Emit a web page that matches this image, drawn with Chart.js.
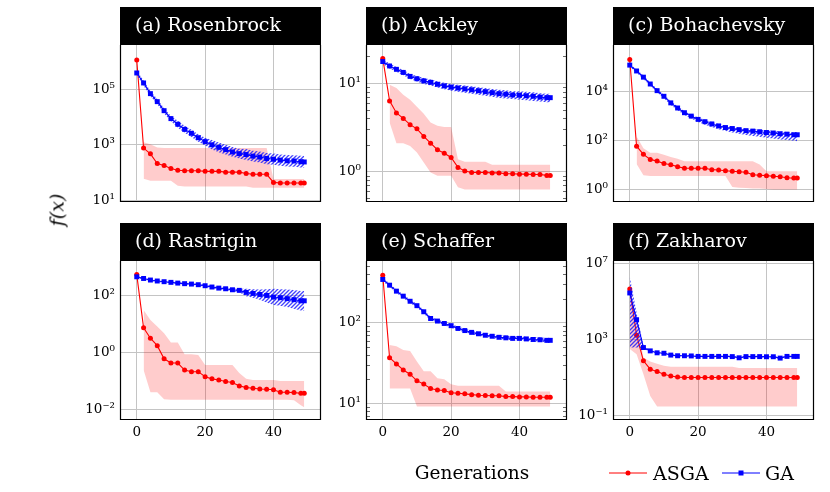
<!DOCTYPE html>
<html>
<head>
<meta charset="utf-8">
<script src="https://cdn.jsdelivr.net/npm/chart.js@4.4.0/dist/chart.umd.min.js"></script>
<style>
  body { margin: 0; width: 830px; height: 492px; background: #fff; position: relative; overflow: hidden; font-family: "DejaVu Serif", serif; }
  canvas.panel { position: absolute; }
  .lbl { position: absolute; color: #000; white-space: nowrap; line-height: 1; }
  #xlab { left: 472px; top: 473px; font-size: 18.5px; transform: translate(-50%, -50%); }
  #ylab { left: 57px; top: 210px; font-size: 19px; font-style: italic; transform: translate(-50%, -50%) rotate(-90deg); }
  .key { position: absolute; top: 468px; }
  .ltxt { top: 473px; font-size: 19px; transform: translateY(-50%); }
</style>
</head>
<body>
<canvas id="p0" class="panel"></canvas>
<canvas id="p1" class="panel"></canvas>
<canvas id="p2" class="panel"></canvas>
<canvas id="p3" class="panel"></canvas>
<canvas id="p4" class="panel"></canvas>
<canvas id="p5" class="panel"></canvas>

<div id="ylab" class="lbl">f(x)</div>
<div id="xlab" class="lbl">Generations</div>
<svg class="key" style="left:609px" width="38" height="10"><line x1="0" y1="5" x2="38" y2="5" stroke="#ff0000" stroke-width="1"/><circle cx="19" cy="5" r="2.5" fill="#ff0000"/></svg>
<div class="lbl ltxt" style="left:653px">ASGA</div>
<svg class="key" style="left:722px" width="38" height="10"><line x1="0" y1="5" x2="38" y2="5" stroke="#0000ff" stroke-width="1"/><rect x="16.5" y="2.5" width="5" height="5" fill="#0000ff"/></svg>
<div class="lbl ltxt" style="left:765px">GA</div>

<script>
const generations = [0, 2, 4, 6, 8, 10, 12, 14, 16, 18, 20, 22, 24, 26, 28, 30, 32, 34, 36, 38, 40, 42, 44, 46, 48, 49];
const xTicks = [0, 20, 40];
const panelTitles = ['(a) Rosenbrock', '(b) Ackley', '(c) Bohachevsky', '(d) Rastrigin', '(e) Schaffer', '(f) Zakharov'];

// y limits and labelled decades, one entry per panel
const yMin = [8.7, 0.457, 0.31, 0.0043, 6.2, 0.055];
const yMax = [3.98e6, 26.9, 7.8e5, 1550, 585, 1.3e7];
const yTicks = [[1e1, 1e3, 1e5], [1e0, 1e1], [1e0, 1e2, 1e4], [1e-2, 1e0, 1e2], [1e1, 1e2], [1e-1, 1e3, 1e7]];
const minorTicksOn = [false, true, false, false, true, false];

// (a) Rosenbrock
const asgaRosen   = [1.15e6, 760, 470, 210, 180, 140, 120, 115, 115, 115, 110, 110, 110, 103, 103, 103, 92, 87, 87, 86, 44, 42, 42, 42, 42, 42];
const asgaRosenHi = [null, 1230, 1050, 800, 760, 760, 760, 760, 760, 760, 760, 760, 760, 760, 760, 760, 760, 760, 760, 760, 58, 58, 58, 58, 58, 58];
const asgaRosenLo = [null, 60, 50, 50, 50, 50, 33, 31, 31, 31, 31, 31, 31, 31, 31, 31, 31, 28, 28, 28, 28, 28, 28, 28, 28, 28];
const gaRosen     = [3.9e5, 1.7e5, 7e4, 3.6e4, 1.7e4, 8.8e3, 5.5e3, 3.6e3, 2.6e3, 1.8e3, 1.3e3, 1000, 810, 670, 550, 480, 445, 390, 360, 320, 300, 280, 265, 260, 245, 240];
const gaRosenHi   = [4.7e5, 2.1e5, 8.8e4, 4.5e4, 2.1e4, 1.1e4, 7.4e3, 4.9e3, 3.5e3, 2.4e3, 1.8e3, 1.5e3, 1.2e3, 1.0e3, 830, 720, 700, 610, 570, 510, 480, 450, 430, 420, 400, 390];
const gaRosenLo   = [3.2e5, 1.35e5, 5.6e4, 2.9e4, 1.35e4, 7e3, 4.1e3, 2.7e3, 1.9e3, 1.3e3, 950, 680, 540, 450, 370, 320, 280, 250, 230, 200, 190, 175, 165, 160, 150, 145];

// (b) Ackley
const asgaAckley   = [19, 6.3, 4.6, 4.0, 3.4, 3.05, 2.5, 2.1, 1.77, 1.62, 1.45, 1.12, 1.02, 0.98, 0.98, 0.98, 0.97, 0.97, 0.95, 0.95, 0.94, 0.94, 0.93, 0.93, 0.91, 0.91];
const asgaAckleyHi = [null, 9.6, 8.8, 7.4, 6.5, 5.4, 4.5, 3.6, 3.3, 3.2, 3.2, 1.38, 1.3, 1.3, 1.3, 1.3, 1.2, 1.2, 1.2, 1.2, 1.2, 1.2, 1.2, 1.2, 1.2, 1.2];
const asgaAckleyLo = [null, 3.6, 2.1, 2.1, 1.95, 1.65, 1.27, 0.98, 0.9, 0.9, 0.9, 0.67, 0.63, 0.63, 0.63, 0.63, 0.63, 0.63, 0.63, 0.63, 0.63, 0.63, 0.63, 0.63, 0.63, 0.63];
const gaAckley     = [17.5, 15.6, 14.3, 13.2, 11.9, 11.2, 10.6, 10.2, 9.7, 9.3, 9.0, 8.8, 8.6, 8.4, 8.2, 8.0, 7.8, 7.6, 7.5, 7.35, 7.3, 7.2, 7.1, 6.95, 6.85, 6.85];
const gaAckleyHi   = [18.6, 16.6, 15.2, 14.1, 12.7, 12.0, 11.4, 11.0, 10.5, 10.1, 9.8, 9.6, 9.4, 9.2, 9.0, 8.8, 8.6, 8.4, 8.3, 8.1, 8.1, 8.0, 7.9, 7.7, 7.6, 7.6];
const gaAckleyLo   = [16.4, 14.6, 13.4, 12.3, 11.1, 10.4, 9.8, 9.4, 8.9, 8.5, 8.2, 8.0, 7.8, 7.6, 7.4, 7.2, 7.0, 6.8, 6.7, 6.6, 6.5, 6.4, 6.3, 6.2, 6.1, 6.1];

// (c) Bohachevsky
const asgaBoha   = [2.0e5, 58, 27, 16.8, 14.3, 11.5, 10.2, 8.5, 7.3, 7.3, 7.3, 7.3, 6.4, 6.2, 5.8, 5.5, 5.3, 5.0, 4.0, 3.8, 3.65, 3.45, 3.3, 3.0, 2.9, 2.9];
const asgaBohaHi = [null, 145, 48, 31, 31, 26, 21, 18, 14, 14, 14, 14, 14, 14, 14, 14, 14, 14, 14, 10.5, 5.5, 5.5, 5.5, 5.5, 5.5, 5.5];
const asgaBohaLo = [null, 11, 3.8, 3.5, 3.5, 3.5, 3.5, 3.5, 3.5, 3.5, 3.5, 3.5, 3.5, 3.5, 3.5, 1.27, 1.17, 1.15, 1.1, 1.1, 1.05, 1.0, 1.0, 1.0, 1.0, 1.0];
const gaBoha     = [1.18e5, 6.8e4, 3.8e4, 2.0e4, 1.07e4, 6.3e3, 3.4e3, 2.1e3, 1.35e3, 980, 720, 580, 470, 390, 335, 305, 275, 250, 240, 225, 210, 200, 187, 180, 170, 170];
const gaBohaHi   = [1.35e5, 7.8e4, 4.4e4, 2.3e4, 1.25e4, 7.4e3, 4.0e3, 2.5e3, 1.6e3, 1.15e3, 850, 690, 560, 470, 400, 365, 330, 300, 290, 275, 255, 245, 230, 220, 210, 210];
const gaBohaLo   = [1.0e5, 5.8e4, 3.2e4, 1.7e4, 8.9e3, 5.2e3, 2.8e3, 1.7e3, 1.1e3, 780, 560, 440, 350, 285, 240, 210, 185, 165, 150, 140, 128, 120, 110, 104, 97, 92];

// (d) Rastrigin
const asgaRast   = [520, 7.2, 3.1, 1.7, 0.59, 0.42, 0.42, 0.24, 0.21, 0.21, 0.14, 0.118, 0.108, 0.095, 0.088, 0.067, 0.059, 0.055, 0.052, 0.051, 0.049, 0.04, 0.04, 0.039, 0.037, 0.037];
const asgaRastHi = [null, 30, 13.5, 7.9, 4.6, 2.2, 2.2, 0.85, 0.85, 0.81, 0.36, 0.36, 0.36, 0.36, 0.36, 0.19, 0.118, 0.107, 0.107, 0.107, 0.107, 0.1, 0.1, 0.1, 0.1, 0.1];
const asgaRastLo = [null, 0.24, 0.04, 0.04, 0.023, 0.022, 0.022, 0.022, 0.022, 0.022, 0.022, 0.022, 0.022, 0.022, 0.022, 0.022, 0.022, 0.022, 0.022, 0.022, 0.022, 0.022, 0.022, 0.021, 0.014, 0.012];
const gaRast     = [435, 380, 335, 310, 293, 278, 262, 250, 242, 230, 212, 191, 175, 166, 153, 146, 124, 114, 105, 97, 85, 81, 75, 69, 63, 63];
const gaRastHi   = [470, 410, 360, 335, 315, 298, 282, 270, 262, 250, 232, 210, 193, 184, 172, 165, 165, 160, 158, 160, 165, 160, 155, 150, 140, 138];
const gaRastLo   = [400, 350, 310, 285, 272, 258, 243, 231, 223, 210, 193, 173, 158, 150, 135, 125, 90, 80, 68, 55, 45, 42, 38, 33, 29, 28];

// (e) Schaffer
const asgaSchaf   = [390, 36.8, 30.8, 25.9, 23, 19, 17.3, 15.3, 14.6, 14.4, 13.5, 13.3, 13.1, 12.8, 12.6, 12.5, 12.4, 12.4, 12.1, 12.1, 12, 12, 11.9, 11.9, 11.9, 11.9];
const asgaSchafHi = [null, 53, 51, 46, 44.5, 33, 25, 25, 20.5, 19.9, 17.2, 16.5, 16.5, 16.5, 16.5, 16.5, 16.5, 16.5, 14, 14, 14, 14, 14, 14, 14, 14];
const asgaSchafLo = [null, 15.3, 15.3, 15.3, 15.3, 9.1, 9.1, 9.1, 9.1, 9.1, 9.1, 9.1, 9.1, 9.1, 9.1, 9.1, 9.1, 9.1, 9.1, 9.1, 9.1, 9.1, 9.1, 9.1, 9.1, 9.1];
const gaSchaf     = [345, 293, 247, 214, 185, 163, 137, 113, 105, 98, 92, 85, 80, 76, 73, 70, 68, 66, 65, 64, 64, 63, 62, 61.5, 60.5, 60.5];
const gaSchafHi   = [362, 308, 259, 225, 194, 171, 144, 119, 110, 103, 97, 89, 84, 80, 77, 74, 72, 70, 69, 68, 68, 67, 66, 65.5, 64.5, 64.5];
const gaSchafLo   = [328, 278, 235, 203, 176, 155, 130, 107, 100, 93, 87, 81, 76, 72, 69, 66.5, 64.5, 62.5, 61.5, 60.5, 60.5, 59.5, 58.5, 58, 57, 57];

// (f) Zakharov
const asgaZakh   = [4.4e5, 1600, 72, 26, 19.5, 14, 11.5, 10, 9.5, 9.5, 9.5, 9.5, 9.5, 9.5, 9.5, 9.5, 9.5, 9.5, 9.5, 9.5, 9.5, 9.5, 9.5, 9.5, 9.5, 9.5];
const asgaZakhHi = [5e5, 1.2e4, 107, 66, 50, 40, 35, 35, 35, 35, 35, 35, 35, 35, 35, 35, 30, 30, 30, 30, 30, 30, 30, 30, 30, 30];
const asgaZakhLo = [300, 160, 14, 1.0, 0.28, 0.28, 0.28, 0.28, 0.28, 0.28, 0.28, 0.28, 0.28, 0.28, 0.28, 0.28, 0.28, 0.28, 0.28, 0.28, 0.28, 0.28, 0.28, 0.28, 0.28, 0.28];
const gaZakh     = [2.7e5, 1.05e4, 360, 240, 190, 180, 144, 133, 133, 130, 123, 123, 123, 123, 123, 120, 104, 120, 120, 120, 118, 118, 100, 123, 123, 123];
const gaZakhHi   = [1.95e6, 2.5e4, 450, 265, 210, 195, 158, 146, 146, 143, 135, 135, 135, 135, 135, 132, 115, 132, 132, 132, 130, 130, 110, 135, 135, 135];
const gaZakhLo   = [360, 360, 300, 218, 172, 165, 130, 120, 120, 118, 111, 111, 111, 111, 111, 108, 94, 108, 108, 108, 106, 106, 90, 111, 111, 111];

const panels = [
  { asga: asgaRosen, asgaHi: asgaRosenHi, asgaLo: asgaRosenLo, ga: gaRosen, gaHi: gaRosenHi, gaLo: gaRosenLo },
  { asga: asgaAckley, asgaHi: asgaAckleyHi, asgaLo: asgaAckleyLo, ga: gaAckley, gaHi: gaAckleyHi, gaLo: gaAckleyLo },
  { asga: asgaBoha, asgaHi: asgaBohaHi, asgaLo: asgaBohaLo, ga: gaBoha, gaHi: gaBohaHi, gaLo: gaBohaLo },
  { asga: asgaRast, asgaHi: asgaRastHi, asgaLo: asgaRastLo, ga: gaRast, gaHi: gaRastHi, gaLo: gaRastLo },
  { asga: asgaSchaf, asgaHi: asgaSchafHi, asgaLo: asgaSchafLo, ga: gaSchaf, gaHi: gaSchafHi, gaLo: gaSchafLo },
  { asga: asgaZakh, asgaHi: asgaZakhHi, asgaLo: asgaZakhLo, ga: gaZakh, gaHi: gaZakhHi, gaLo: gaZakhLo },
];

// layout of the 2x3 grid (plot area left edges, canvas tops)
const colLeft = [120, 366, 613];
const plotWidth = 202;
const axisGutter = 60;

Chart.defaults.font.family = '"DejaVu Serif", serif';
Chart.defaults.color = '#000';

const sup = { '-': '⁻', '0': '⁰', '1': '¹', '2': '²', '3': '³', '4': '⁴', '5': '⁵', '6': '⁶', '7': '⁷', '8': '⁸', '9': '⁹' };
function powLabel(v) {
  const e = String(Math.round(Math.log10(v)));
  return '10' + e.split('').map(c => sup[c]).join('');
}

function hatchPattern() {
  const c = document.createElement('canvas');
  c.width = 4; c.height = 4;
  const g = c.getContext('2d');
  g.strokeStyle = 'rgba(20,20,255,0.8)';
  g.lineWidth = 1.3;
  g.beginPath();
  g.moveTo(0, 4); g.lineTo(4, 0);
  g.moveTo(-1, 1); g.lineTo(1, -1);
  g.moveTo(3, 5); g.lineTo(5, 3);
  g.stroke();
  return g.createPattern(c, 'repeat');
}

function minorTicks(lo, hi) {
  const out = [];
  for (let k = Math.floor(Math.log10(lo)); k <= Math.ceil(Math.log10(hi)); k++) {
    for (let m = 2; m <= 9; m++) {
      const v = m * Math.pow(10, k);
      if (v > lo && v < hi) out.push(v);
    }
  }
  return out;
}

// black title bar, frame and inner minor ticks
const panelDecor = {
  id: 'panelDecor',
  afterDatasetsDraw(chart, args, opts) {
    const { ctx, chartArea: a } = chart;
    const L = Math.round(a.left), R = Math.round(a.right), T = Math.round(a.top), B = Math.round(a.bottom);
    ctx.save();
    if (opts.minor.length) {
      const y = chart.scales.y;
      ctx.strokeStyle = '#444';
      ctx.lineWidth = 0.8;
      ctx.beginPath();
      opts.minor.forEach(v => {
        const py = Math.round(y.getPixelForValue(v)) + 0.5;
        ctx.moveTo(L, py); ctx.lineTo(L + 4, py);
        ctx.moveTo(R, py); ctx.lineTo(R - 4, py);
      });
      ctx.stroke();
    }
    ctx.strokeStyle = '#000';
    ctx.lineWidth = 1.2;
    ctx.beginPath();
    ctx.moveTo(L + 0.5, T); ctx.lineTo(L + 0.5, B - 0.5);
    ctx.lineTo(R - 0.5, B - 0.5); ctx.lineTo(R - 0.5, T);
    ctx.stroke();
    ctx.fillStyle = '#000';
    ctx.fillRect(L, T - 38, R - L, 38);
    ctx.fillStyle = '#fff';
    ctx.font = '19px "DejaVu Serif", serif';
    ctx.textBaseline = 'middle';
    ctx.fillText(opts.title, L + 15, T - 19);
    ctx.restore();
  }
};

const pts = arr => generations.map((g, i) => ({ x: g, y: arr[i] }));

panels.forEach((p, i) => {
  const bottomRow = i >= 3;
  const canvas = document.getElementById('p' + i);
  const w = axisGutter + plotWidth + 3;
  const h = bottomRow ? 240 : 215;
  canvas.width = w; canvas.height = h;
  canvas.style.left = (colLeft[i % 3] - axisGutter) + 'px';
  canvas.style.top = (bottomRow ? 215 : 0) + 'px';
  canvas.style.width = w + 'px'; canvas.style.height = h + 'px';

  const gridStyle = { color: '#c4c4c4', lineWidth: 1, drawTicks: false };

  new Chart(canvas, {
    type: 'line',
    data: {
      datasets: [
        { label: 'GA', data: pts(p.ga), borderColor: '#0000ff', backgroundColor: '#0000ff', borderWidth: 1.1,
          pointStyle: 'rect', pointRadius: 3.5, pointBorderWidth: 0, fill: false },
        { label: 'GA max', data: pts(p.gaHi), borderColor: 'transparent', borderWidth: 0, pointRadius: 0,
          backgroundColor: hatchPattern(), fill: '+1' },
        { label: 'GA min', data: pts(p.gaLo), borderColor: 'transparent', borderWidth: 0, pointRadius: 0, fill: false },
        { label: 'ASGA', data: pts(p.asga), borderColor: '#ff0000', backgroundColor: '#ff0000', borderWidth: 1.1,
          pointStyle: 'circle', pointRadius: 2.5, pointBorderWidth: 0, fill: false },
        { label: 'ASGA max', data: pts(p.asgaHi), borderColor: 'transparent', borderWidth: 0, pointRadius: 0,
          backgroundColor: 'rgba(255,0,0,0.2)', fill: '+1' },
        { label: 'ASGA min', data: pts(p.asgaLo), borderColor: 'transparent', borderWidth: 0, pointRadius: 0, fill: false },
      ]
    },
    options: {
      responsive: false,
      animation: false,
      events: [],
      spanGaps: false,
      layout: { padding: { top: bottomRow ? 46 : 45, right: 3, left: 0, bottom: 0 } },
      plugins: {
        legend: { display: false },
        tooltip: { enabled: false },
        panelDecor: { title: panelTitles[i], minor: minorTicksOn[i] ? minorTicks(yMin[i], yMax[i]) : [] }
      },
      scales: {
        x: {
          type: 'linear', min: -4.9, max: 53.9, bounds: 'data',
          afterBuildTicks: s => { s.ticks = xTicks.map(v => ({ value: v })); },
          afterFit: s => { s.height = bottomRow ? 35 : 12; },
          grid: gridStyle,
          border: { display: false },
          ticks: { display: bottomRow, padding: 4, autoSkip: false, maxRotation: 0, font: { size: 13.5 } }
        },
        y: {
          type: 'logarithmic', min: yMin[i], max: yMax[i], bounds: 'data',
          afterBuildTicks: s => { s.ticks = yTicks[i].map(v => ({ value: v })); },
          afterFit: s => { s.width = axisGutter; },
          grid: gridStyle,
          border: { display: false },
          ticks: { padding: 5, autoSkip: false, font: { size: 13.5 }, callback: v => powLabel(v) }
        }
      }
    },
    plugins: [panelDecor]
  });
});
</script>
</body>
</html>
